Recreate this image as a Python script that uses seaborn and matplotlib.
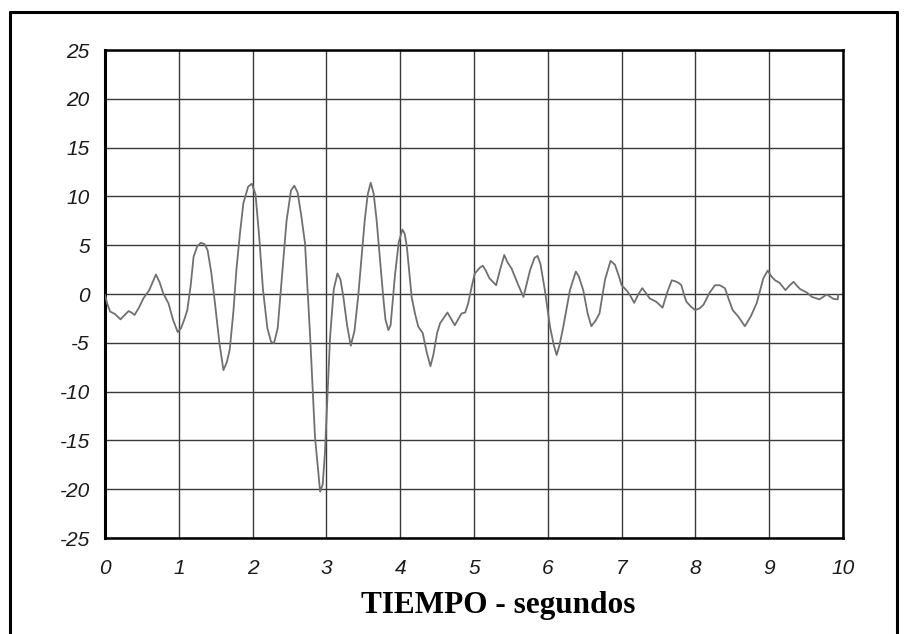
import matplotlib
matplotlib.use("Agg")
import matplotlib.pyplot as plt
import seaborn as sns
import pandas as pd
from matplotlib.lines import Line2D

# ---- data ----
tiempo = [0.00, 0.03, 0.07, 0.135, 0.21, 0.26, 0.32, 0.36, 0.40, 0.46, 0.52, 0.60, 0.65, 0.69,
          0.74, 0.79, 0.86, 0.92, 0.985, 1.03, 1.08, 1.115, 1.16, 1.20, 1.25, 1.30, 1.35, 1.39,
          1.44, 1.49, 1.55, 1.605, 1.65, 1.69, 1.74, 1.78, 1.83, 1.875, 1.94, 1.99, 2.04, 2.09,
          2.14, 2.20, 2.25, 2.29, 2.34, 2.40, 2.46, 2.52, 2.565, 2.61, 2.66, 2.71, 2.78, 2.845,
          2.915, 2.95, 2.98, 3.05, 3.10, 3.15, 3.19, 3.23, 3.28, 3.33, 3.38, 3.43, 3.52, 3.56,
          3.60, 3.64, 3.68, 3.77, 3.80, 3.84, 3.87, 3.93, 3.98, 4.03, 4.06, 4.09, 4.155, 4.20,
          4.245, 4.305, 4.36, 4.41, 4.45, 4.50, 4.54, 4.64, 4.74, 4.83, 4.88, 4.92, 4.97, 5.01,
          5.08, 5.12, 5.16, 5.21, 5.30, 5.35, 5.41, 5.45, 5.51, 5.59, 5.67, 5.76, 5.82, 5.86,
          5.90, 5.96, 6.03, 6.08, 6.12, 6.16, 6.21, 6.30, 6.38, 6.42, 6.48, 6.54, 6.59, 6.65,
          6.70, 6.775, 6.85, 6.91, 6.96, 7.00, 7.07, 7.12, 7.17, 7.23, 7.28, 7.33, 7.38, 7.47,
          7.555, 7.62, 7.68, 7.73, 7.77, 7.81, 7.85, 7.88, 7.94, 8.00, 8.06, 8.11, 8.19, 8.265,
          8.33, 8.40, 8.45, 8.505, 8.58, 8.67, 8.75, 8.83, 8.92, 8.98, 9.03, 9.08, 9.14, 9.22,
          9.28, 9.33, 9.38, 9.42, 9.51, 9.58, 9.68, 9.73, 9.78, 9.83, 9.87, 9.93, 9.935]
aceleracion = [-0.1, -1.0, -1.8, -2.05, -2.6, -2.2, -1.75, -1.9, -2.15, -1.4, -0.45, 0.4, 1.3, 2.0,
               1.2, 0.05, -0.95, -2.6, -3.9, -3.5, -2.5, -1.65, 0.8, 3.8, 4.9, 5.25, 5.1, 4.5,
               2.2, -0.95, -5.0, -7.8, -7.0, -5.7, -1.8, 2.45, 6.3, 9.3, 11.0, 11.3, 10.2, 5.8,
               0.5, -3.5, -4.9, -5.05, -3.5, 2.0, 7.5, 10.6, 11.1, 10.4, 8.0, 5.2, -4.4, -14.6,
               -20.25, -19.5, -16.3, -4.4, 0.5, 2.1, 1.5, -0.3, -3.2, -5.3, -3.8, -0.3, 7.6, 10.2,
               11.4, 10.3, 7.6, -0.3, -2.6, -3.7, -3.2, 2.0, 5.3, 6.6, 6.2, 4.85, -0.3, -2.0,
               -3.35, -4.0, -6.0, -7.4, -6.2, -4.0, -3.0, -1.9, -3.2, -2.0, -1.9, -1.0, 0.8, 2.1,
               2.7, 2.9, 2.4, 1.6, 0.9, 2.4, 4.0, 3.3, 2.6, 1.1, -0.3, 2.45, 3.7, 3.9,
               3.1, 0.4, -3.35, -5.2, -6.25, -5.2, -3.35, 0.4, 2.3, 1.8, 0.4, -2.0, -3.3, -2.7,
               -2.0, 1.45, 3.4, 3.0, 1.9, 0.9, 0.35, -0.2, -0.9, 0.0, 0.6, 0.1, -0.45, -0.8,
               -1.4, 0.2, 1.4, 1.3, 1.15, 0.9, -0.2, -0.8, -1.3, -1.65, -1.45, -1.1, 0.1, 0.9,
               0.9, 0.6, -0.5, -1.65, -2.3, -3.3, -2.3, -0.95, 1.6, 2.4, 1.8, 1.4, 1.15, 0.4,
               0.9, 1.25, 0.8, 0.5, 0.15, -0.3, -0.55, -0.3, -0.05, -0.3, -0.5, -0.55, -0.1]
x_ticks = [0, 1, 2, 3, 4, 5, 6, 7, 8, 9, 10]
y_ticks = [-25, -20, -15, -10, -5, 0, 5, 10, 15, 20, 25]
x_label = "TIEMPO - segundos"

df = pd.DataFrame({"t": tiempo, "a": aceleracion})

sns.set_style("white")
plt.rcParams["font.family"] = ["Liberation Sans", "DejaVu Sans"]

fig = plt.figure(figsize=(9.06, 6.34), dpi=100)
ax = fig.add_axes([105 / 906, 1 - 538 / 634, (843 - 105) / 906, (538 - 50) / 634])

# grid
for xv in x_ticks:
    ax.axvline(xv, color="#3a3a3a", lw=1.0, zorder=1)
for yv in y_ticks:
    ax.axhline(yv, color="#3a3a3a", lw=1.0, zorder=1)

sns.lineplot(data=df, x="t", y="a", ax=ax, color="#707070", lw=1.3, zorder=3,
             sort=False, estimator=None)

ax.set_xlim(0, 10)
ax.set_ylim(-25, 25)
ax.set_xticks(x_ticks)
ax.set_yticks(y_ticks)
ax.set_xticklabels([str(v) for v in x_ticks], fontstyle="italic", fontsize=15)
ax.set_yticklabels([str(v) for v in y_ticks], fontstyle="italic", fontsize=15)
ax.tick_params(axis="both", length=0, colors="#1a1a1a")
ax.tick_params(axis="y", pad=11)
ax.tick_params(axis="x", pad=15)
for s in ax.spines.values():
    s.set_visible(True)
    s.set_color("black")
    s.set_linewidth(1.8)
ax.spines["left"].set_linewidth(2.2)
ax.set_xlabel(x_label, fontfamily=["Liberation Serif", "DejaVu Serif"], fontweight="bold",
              fontsize=22.5, color="black")
ax.xaxis.set_label_coords(0.5325, -0.108)
ax.set_ylabel("")

# outer frame (left, top, right)
fl, fr, ft = 9.5 / 906, 897 / 906, 1 - 11.5 / 634
for xs, ys in [([fl, fl], [0, ft]), ([fl, fr], [ft, ft]), ([fr, fr], [ft, 0])]:
    fig.add_artist(Line2D(xs, ys, transform=fig.transFigure, color="black", lw=2.2))

fig.savefig("out.png", dpi=100, facecolor="white")
